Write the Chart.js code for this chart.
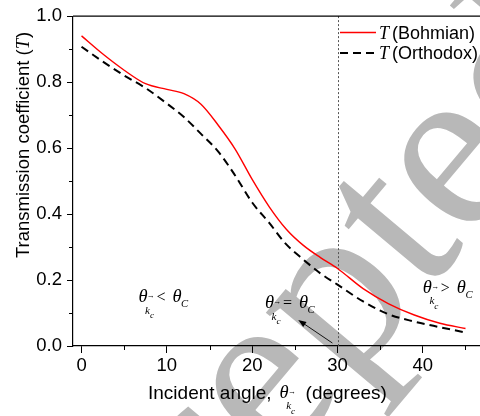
<!DOCTYPE html>
<html><head><meta charset="utf-8">
<script src="https://cdn.jsdelivr.net/npm/chart.js@4/dist/chart.umd.min.js"></script>
<style>html,body{margin:0;padding:0;background:#fff;overflow:hidden}#wrap{width:480px;height:416px;position:relative}</style>
</head><body><div id="wrap"><canvas id="c" width="480" height="416"></canvas></div>
<script>
// ---- data ----
const angles   = [0, 2.5, 5, 7.5, 10, 12, 14, 16, 18, 20, 22, 24, 26, 28, 30, 33, 36, 39, 42, 45];
const bohmian  = [0.940,0.885,0.836,0.795,0.778,0.765,0.733,0.670,0.597,0.505,0.422,0.354,0.305,0.268,0.235,0.174,0.128,0.094,0.069,0.053];
const orthodox = [0.907,0.862,0.820,0.782,0.735,0.694,0.643,0.590,0.517,0.435,0.373,0.308,0.262,0.220,0.186,0.135,0.096,0.074,0.057,0.041];
const xTicks = [0, 10, 20, 30, 40];
const xMinorTicks = [5, 15, 25, 35, 45];
const yTicks = [0, 0.2, 0.4, 0.6, 0.8, 1.0];
const yMinorTicks = [0.1, 0.3, 0.5, 0.7, 0.9];
const criticalAngle = 30;
const seriesNames = ['Bohmian', 'Orthodox'];

// annotation anchors (data units)
const regionNotes = [
  {x: 6.67, y: 0.133, sign: '<'},
  {x: 21.5, y: 0.115, sign: '='},
  {x: 40.0, y: 0.161, sign: '>'}
];
const arrowFrom = {x: 29.4, y: 0.009};
const arrowTo   = {x: 25.4, y: 0.079};

const SANS = '"Liberation Sans", Arial, sans-serif';
const SERIF = '"Liberation Serif", "Times New Roman", serif';

function drawThetaK(ctx, x, y, fs) {
  ctx.font = `italic ${fs}px ${SERIF}`;
  ctx.fillText('θ', x, y);
  const w = ctx.measureText('θ').width;
  ctx.font = `${fs*0.42}px ${SERIF}`;
  ctx.fillText('→', x + w - 0.5, y - fs*0.22);
  ctx.font = `italic ${fs*0.6}px ${SERIF}`;
  ctx.fillText('k', x + w - 2.5, y + fs*0.62);
  const kw = ctx.measureText('k').width;
  ctx.font = `italic ${fs*0.5}px ${SERIF}`;
  ctx.fillText('c', x + w - 2.5 + kw, y + fs*0.88);
}

const deco = {
  id: 'deco',
  beforeDraw(chart) {
    const ctx = chart.ctx;
    ctx.save();
    ctx.fillStyle = '#fff';
    ctx.fillRect(0, 0, chart.width, chart.height);
    // watermark
    ctx.translate(30, 765);
    ctx.rotate(-50 * Math.PI / 180);
    ctx.font = `240px ${SERIF}`;
    ctx.fillStyle = '#b8b8b8';
    ctx.textBaseline = 'alphabetic';
    ctx.fillText('Accepted', 0, 0);
    ctx.restore();
  },
  beforeDatasetsDraw(chart) {
    const {ctx, chartArea: a, scales: {x}} = chart;
    ctx.save();
    const px = Math.round(x.getPixelForValue(criticalAngle)) + 0.5;
    ctx.strokeStyle = '#555';
    ctx.lineWidth = 1;
    ctx.setLineDash([2, 2]);
    ctx.beginPath(); ctx.moveTo(px, a.top); ctx.lineTo(px, a.bottom); ctx.stroke();
    ctx.restore();
  },
  afterDraw(chart) {
    const {ctx, chartArea: a, scales: {x, y}} = chart;
    ctx.save();
    ctx.strokeStyle = '#000';
    ctx.fillStyle = '#000';
    // top frame line
    ctx.lineWidth = 1.2;
    ctx.beginPath(); ctx.moveTo(a.left, a.top); ctx.lineTo(a.right, a.top); ctx.stroke();
    // minor ticks
    ctx.lineWidth = 1;
    ctx.beginPath();
    xMinorTicks.forEach(v => { const p = Math.round(x.getPixelForValue(v)) + 0.5; ctx.moveTo(p, a.bottom); ctx.lineTo(p, a.bottom + 4); });
    yMinorTicks.forEach(v => { const p = Math.round(y.getPixelForValue(v)) + 0.5; ctx.moveTo(a.left, p); ctx.lineTo(a.left - 4, p); });
    ctx.stroke();

    ctx.textBaseline = 'alphabetic';
    ctx.textAlign = 'left';
    // region annotations
    const fs = 18.5;
    regionNotes.forEach(n => {
      const px = x.getPixelForValue(n.x), py = y.getPixelForValue(n.y);
      drawThetaK(ctx, px, py, fs);
      ctx.font = `16px ${SERIF}`;
      ctx.fillText(n.sign, px + 18, py);
      ctx.font = `italic ${fs}px ${SERIF}`;
      ctx.fillText('θ', px + 34, py);
      const tw = ctx.measureText('θ').width;
      ctx.font = `italic ${fs*0.58}px ${SERIF}`;
      ctx.fillText('C', px + 34 + tw - 0.5, py + 5);
    });
    // arrow
    const x1 = x.getPixelForValue(arrowFrom.x), y1 = y.getPixelForValue(arrowFrom.y);
    const x2 = x.getPixelForValue(arrowTo.x), y2 = y.getPixelForValue(arrowTo.y);
    const ang = Math.atan2(y2 - y1, x2 - x1);
    ctx.lineWidth = 0.9;
    ctx.beginPath(); ctx.moveTo(x1, y1); ctx.lineTo(x2 - 5*Math.cos(ang), y2 - 5*Math.sin(ang)); ctx.stroke();
    ctx.beginPath();
    ctx.moveTo(x2, y2);
    ctx.lineTo(x2 - 8*Math.cos(ang) + 3*Math.sin(ang), y2 - 8*Math.sin(ang) - 3*Math.cos(ang));
    ctx.lineTo(x2 - 8*Math.cos(ang) - 3*Math.sin(ang), y2 - 8*Math.sin(ang) + 3*Math.cos(ang));
    ctx.closePath(); ctx.fill();

    // legend
    chart.data.datasets.forEach((ds, i) => {
      const ly = 32.5 + i * 20.5;
      ctx.strokeStyle = ds.borderColor;
      ctx.lineWidth = ds.borderWidth;
      ctx.setLineDash(ds.borderDash || []);
      ctx.beginPath(); ctx.moveTo(340, ly); ctx.lineTo(376, ly); ctx.stroke();
      ctx.setLineDash([]);
      ctx.fillStyle = '#000';
      ctx.font = `italic 18px ${SERIF}`;
      ctx.fillText('T', 379, ly + 6.3);
      const tw = ctx.measureText('T').width;
      ctx.font = `18px ${SANS}`;
      ctx.fillText('(' + seriesNames[i] + ')', 379 + tw + 3, ly + 6.3);
    });

    // x-axis title
    ctx.fillStyle = '#000';
    let tx = 148;
    const ty = 399;
    ctx.font = `19px ${SANS}`;
    ctx.fillText('Incident angle,', tx, ty);
    tx += ctx.measureText('Incident angle,').width + 8;
    drawThetaK(ctx, tx, ty - 1, 18.5);
    ctx.font = `19px ${SANS}`;
    ctx.fillText('(degrees)', tx + 26, ty);

    // y-axis title
    ctx.save();
    ctx.translate(28.5, 258);
    ctx.rotate(-Math.PI / 2);
    ctx.font = `18.5px ${SANS}`;
    const s1 = 'Transmission coefficient (';
    ctx.fillText(s1, 0, 0);
    let w = ctx.measureText(s1).width;
    ctx.font = `italic 18.5px ${SERIF}`;
    ctx.fillText('T', w, 0);
    w += ctx.measureText('T').width + 1;
    ctx.font = `18.5px ${SANS}`;
    ctx.fillText(')', w, 0);
    ctx.restore();

    ctx.restore();
  }
};

Chart.defaults.font.family = SANS;
Chart.defaults.color = '#000';

new Chart(document.getElementById('c'), {
  type: 'scatter',
  data: {
    datasets: [
      {label: 'T (Bohmian)', data: angles.map((a, i) => ({x: a, y: bohmian[i]})),
       showLine: true, borderColor: '#ff0000', borderWidth: 1.4, pointRadius: 0, cubicInterpolationMode: 'monotone', fill: false},
      {label: 'T (Orthodox)', data: angles.map((a, i) => ({x: a, y: orthodox[i]})),
       showLine: true, borderColor: '#000000', borderWidth: 2, borderDash: [8, 5], pointRadius: 0, cubicInterpolationMode: 'monotone', fill: false}
    ]
  },
  options: {
    responsive: false,
    animation: false,
    devicePixelRatio: 1,
    layout: {padding: {top: 15.5, right: 0, left: 0, bottom: 0}},
    plugins: {legend: {display: false}, tooltip: {enabled: false}},
    scales: {
      x: {
        type: 'linear', min: -1, max: 46.7,
        afterBuildTicks: s => { s.ticks = xTicks.map(v => ({value: v})); },
        afterFit: s => { s.height = 70; },
        ticks: {font: {size: 18.5}, color: '#000', padding: 2, maxRotation: 0, autoSkip: false, callback: v => String(v)},
        grid: {drawOnChartArea: false, drawTicks: true, tickLength: 7, tickColor: '#000', tickWidth: 1},
        border: {display: true, color: '#000', width: 1.2}
      },
      y: {
        type: 'linear', min: 0, max: 1,
        afterBuildTicks: s => { s.ticks = yTicks.map(v => ({value: v})); },
        afterFit: s => { s.width = 73; },
        ticks: {font: {size: 18.5}, color: '#000', padding: 5, autoSkip: false, callback: v => Number(v).toFixed(1)},
        grid: {drawOnChartArea: false, drawTicks: true, tickLength: 6, tickColor: '#000', tickWidth: 1},
        border: {display: true, color: '#000', width: 1.2}
      }
    }
  },
  plugins: [deco]
});
</script>
</body></html>
